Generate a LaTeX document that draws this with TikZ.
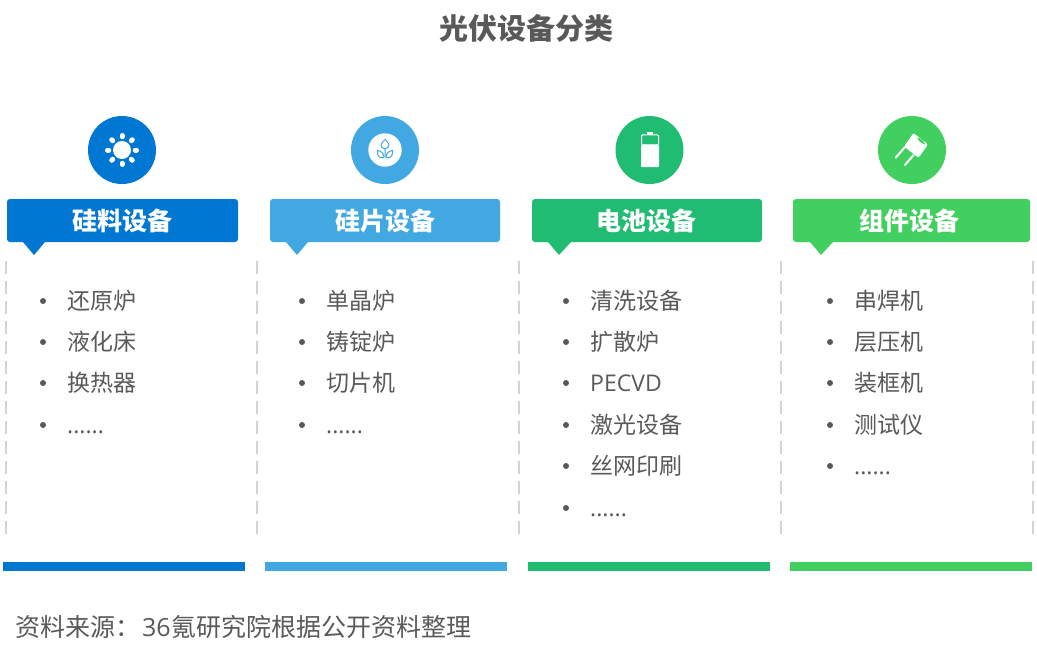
\documentclass[tikz,border=0pt]{standalone}
\usepackage{fontspec}
\setmainfont{Noto Sans CJK SC}
\newfontfamily\latinfont{Open Sans}
\definecolor{siliconblue}{HTML}{0077D2}
\definecolor{waferblue}{HTML}{42A8E2}
\definecolor{cellgreen}{HTML}{20BC72}
\definecolor{modulegreen}{HTML}{41CF60}
\definecolor{textgrey}{HTML}{595959}
\definecolor{dashgrey}{HTML}{D4D4D4}
\tikzset{
  headbox/.style={rounded corners=3pt, minimum height=43pt, inner sep=0pt, text=white, text height=23pt, text depth=3pt, font=\fontsize{25}{25}\selectfont\bfseries},
  iconcircle/.style={circle, minimum size=68pt, inner sep=0pt},
  listitem/.style={anchor=west, inner sep=0pt, text=textgrey, text height=20.4pt, text depth=3pt, font=\fontsize{23}{23}\selectfont},
  listdot/.style={circle, fill=textgrey, inner sep=0pt, minimum size=6pt},
  coldash/.style={dashgrey, line width=2pt, dash pattern=on 13pt off 7pt},
}
\begin{document}
\begin{tikzpicture}[x=1pt, y=-1pt]
  \useasboundingbox (0,0) rectangle (1037,657);

  % Titolo
  \node[inner sep=0pt, text=textgrey, font=\fontsize{29}{29}\selectfont\bfseries] (title) at (526,28) {光伏设备分类};

  % Cerchi delle icone
  \node[iconcircle, fill=siliconblue] (sun) at (122,150) {};
  \node[iconcircle, fill=waferblue] (leaf) at (385,150) {};
  \node[iconcircle, fill=cellgreen] (battery) at (649.5,150) {};
  \node[iconcircle, fill=modulegreen] (capacitor) at (912,150) {};

  % Sole
  \fill[white] (sun) circle (9);
  \foreach \a in {0,45,...,315}
    \draw[white, line width=5pt, line cap=round] (sun) ++(\a:13.2) -- ++(\a:1.3);

  % Foglie
  \fill[white] (leaf) circle (16.7);
  \begin{scope}[shift={(leaf)}, waferblue, line width=1pt]
    \draw (0,-1) .. controls (-6.5,-3.5) and (-4,-7) .. (0,-10.5) .. controls (4,-7) and (6.5,-3.5) .. (0,-1) -- (0,7.5);
    \draw (-1,7.5) -- (-5,7.5) .. controls (-7,7) and (-7.5,4) .. (-7.5,0.5) .. controls (-4,1) and (-1,3) .. (-1,7.5);
    \draw (1,7.5) -- (5,7.5) .. controls (7,7) and (7.5,4) .. (7.5,0.5) .. controls (4,1) and (1,3) .. (1,7.5);
  \end{scope}

  % Batteria
  \fill[white] (646.5,131.5) rectangle (653,134.5);
  \draw[white, line width=1pt, rounded corners=1pt] (641.5,144) -- (641.5,134.8) -- (658.5,134.8) -- (658.5,144);
  \fill[white, opacity=.75] (641,143.5) rectangle (659,145);
  \fill[white, rounded corners=1pt] (641,145) rectangle (659,167);

  % Condensatore
  \draw[white, line width=2pt, line cap=round] (905,147) -- (895.7,157.7);
  \draw[white, line width=2pt, line cap=round] (913.5,155) -- (905,165);
  \fill[white, rounded corners=2pt] (913.5,133) -- (928,144.5) -- (918.5,157.8) -- (904,146.5) -- cycle;
  \fill[modulegreen] (917,137.5) .. controls (920.5,138) and (924,141) .. (925,144.5) .. controls (920.5,143) and (918,140.5) .. cycle;

  % Intestazioni
  \node[headbox, fill=siliconblue, minimum width=231pt] (head1) at (122.5,220.5) {硅料设备};
  \node[headbox, fill=waferblue, minimum width=230pt] (head2) at (385,220.5) {硅片设备};
  \node[headbox, fill=cellgreen, minimum width=230pt] (head3) at (647,220.5) {\hspace*{-2pt}电池设备};
  \node[headbox, fill=modulegreen, minimum width=237pt] (head4) at (911.5,220.5) {\hspace*{-5pt}组件设备};
  \fill[siliconblue] (23,242) -- (34,255) -- (45,242) -- cycle;
  \fill[waferblue] (286,242) -- (297,255) -- (308,242) -- cycle;
  \fill[cellgreen] (548,242) -- (559,255) -- (571,242) -- cycle;
  \fill[modulegreen] (810,242) -- (821,255) -- (833,242) -- cycle;

  % Linee tratteggiate
  \foreach \x in {6,257,519,781,1033}
    \draw[coldash] (\x,261) -- (\x,535);

  % Colonna 1
  \node[listitem] (a1) at (67,301) {还原炉};
  \node[listitem] (a2) at (67,342) {液化床};
  \node[listitem] (a3) at (67,383) {换热器};
  \node[listitem] (a4) at (67,425) {\latinfont ......};

  % Colonna 2
  \node[listitem] (b1) at (326,301) {单晶炉};
  \node[listitem] (b2) at (326,342) {铸锭炉};
  \node[listitem] (b3) at (326,383) {切片机};
  \node[listitem] (b4) at (326,425) {\latinfont ......};

  % Colonna 3
  \node[listitem] (c1) at (590,301) {清洗设备};
  \node[listitem] (c2) at (590,342) {扩散炉};
  \node[listitem] (c3) at (590,383) {\latinfont PECVD};
  \node[listitem] (c4) at (590,425) {激光设备};
  \node[listitem] (c5) at (590,466) {丝网印刷};
  \node[listitem] (c6) at (590,508) {\latinfont ......};

  % Colonna 4
  \node[listitem] (d1) at (854,301) {串焊机};
  \node[listitem] (d2) at (854,342) {层压机};
  \node[listitem] (d3) at (854,383) {装框机};
  \node[listitem] (d4) at (854,425) {测试仪};
  \node[listitem] (d5) at (854,466) {\latinfont ......};

  % Pallini
  \foreach \y in {301,342,383,425} {
    \node[listdot] at (43,\y) {};
    \node[listdot] at (302,\y) {};
  }
  \foreach \y in {301,342,383,425,466,508}
    \node[listdot] at (566,\y) {};
  \foreach \y in {301,342,383,425,466}
    \node[listdot] at (830,\y) {};

  % Barre in basso
  \fill[siliconblue] (3.2,562) rectangle (245.4,571);
  \fill[waferblue] (265.2,562) rectangle (507.4,571);
  \fill[cellgreen] (528.2,562) rectangle (770.4,571);
  \fill[modulegreen] (790.2,562) rectangle (1032.4,571);

  % Fonte
  \node[listitem, font=\fontsize{25}{25}\selectfont] (source) at (15,628) {资料来源：\hspace{2pt}{\latinfont 36}\hspace{1pt}氪研究院根据公开资料整理};
\end{tikzpicture}
\end{document}
